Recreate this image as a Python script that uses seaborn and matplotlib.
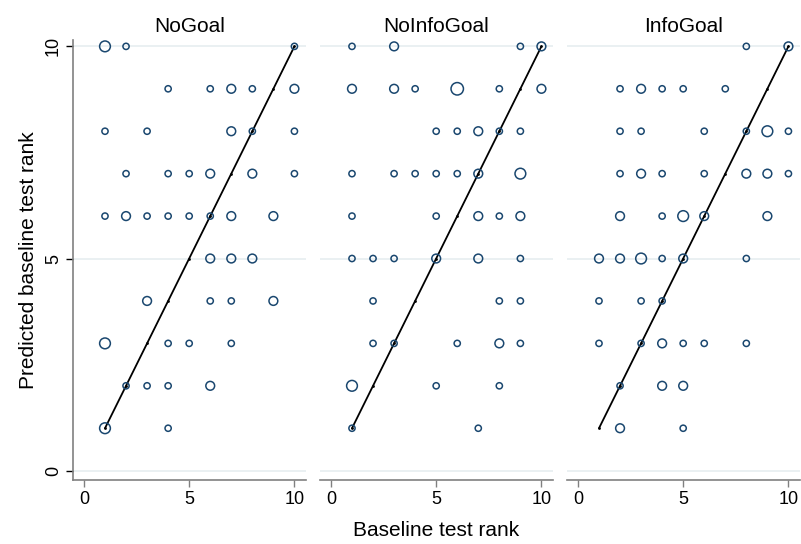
import seaborn as sns
import pandas as pd
from matplotlib import pyplot as plt

# panel titles
groups = ['NoGoal', 'NoInfoGoal', 'InfoGoal']

# NoGoal: baseline rank, predicted rank, number of subjects
nogoal_x = [1, 2, 10, 4, 6, 7, 8, 10, 1, 3, 7, 8, 10, 2, 4, 5, 6, 8, 10,
            1, 2, 3, 4, 5, 6, 7, 9, 6, 7, 8, 3, 6, 7, 9, 1, 4, 5, 7, 2, 3, 4, 6, 1, 4]
nogoal_y = [10, 10, 10, 9, 9, 9, 9, 9, 8, 8, 8, 8, 8, 7, 7, 7, 7, 7, 7,
            6, 6, 6, 6, 6, 6, 6, 6, 5, 5, 5, 4, 4, 4, 4, 3, 3, 3, 3, 2, 2, 2, 2, 1, 1]
nogoal_n = [3, 1, 1, 1, 1, 2, 1, 2, 1, 1, 2, 1, 1, 1, 1, 1, 2, 2, 1,
            1, 2, 1, 1, 1, 1, 2, 2, 2, 2, 2, 2, 1, 1, 2, 3, 1, 1, 1, 1, 1, 1, 2, 3, 1]

# NoInfoGoal
noinfo_x = [1, 3, 9, 10, 1, 3, 4, 6, 8, 10, 5, 6, 7, 8, 9, 1, 3, 4, 5, 6, 7, 9,
            1, 5, 7, 8, 9, 1, 2, 3, 5, 7, 9, 2, 8, 9, 2, 3, 6, 8, 9, 1, 5, 8, 1, 7]
noinfo_y = [10, 10, 10, 10, 9, 9, 9, 9, 9, 9, 8, 8, 8, 8, 8, 7, 7, 7, 7, 7, 7, 7,
            6, 6, 6, 6, 6, 5, 5, 5, 5, 5, 5, 4, 4, 4, 3, 3, 3, 3, 3, 2, 2, 2, 1, 1]
noinfo_n = [1, 2, 1, 2, 2, 2, 1, 4, 1, 2, 1, 1, 2, 1, 1, 1, 1, 1, 1, 1, 2, 3,
            1, 1, 2, 1, 2, 1, 1, 1, 2, 2, 1, 1, 1, 1, 1, 1, 1, 2, 1, 3, 1, 1, 1, 1]

# InfoGoal
info_x = [8, 10, 2, 3, 4, 5, 7, 2, 3, 6, 8, 9, 10, 2, 3, 4, 6, 8, 9, 10,
          2, 4, 5, 6, 9, 1, 2, 3, 4, 5, 8, 1, 3, 4, 1, 3, 4, 5, 6, 8, 2, 4, 5, 2, 5]
info_y = [10, 10, 9, 9, 9, 9, 9, 8, 8, 8, 8, 8, 8, 7, 7, 7, 7, 7, 7, 7,
          6, 6, 6, 6, 6, 5, 5, 5, 5, 5, 5, 4, 4, 4, 3, 3, 3, 3, 3, 3, 2, 2, 2, 1, 1]
info_n = [1, 2, 1, 2, 1, 1, 1, 1, 1, 1, 1, 3, 1, 1, 2, 1, 1, 2, 2, 1,
          2, 1, 3, 2, 2, 2, 2, 3, 1, 2, 1, 1, 1, 1, 1, 1, 2, 1, 1, 1, 1, 2, 2, 2, 1]

# 45 degree reference line
diag = [1, 2, 3, 4, 5, 6, 7, 8, 9, 10]

panels = [(nogoal_x, nogoal_y, nogoal_n), (noinfo_x, noinfo_y, noinfo_n), (info_x, info_y, info_n)]

sns.set_style('white')
plt.rcParams['font.family'] = ['Liberation Sans', 'DejaVu Sans']
plt.rcParams['text.color'] = 'black'
plt.rcParams['axes.labelcolor'] = 'black'
plt.rcParams['xtick.labelcolor'] = 'black'
plt.rcParams['ytick.labelcolor'] = 'black'

navy = '#1a476f'
grid_c = '#e6eef0'
axis_c = '#808080'

fig = plt.figure(figsize=(8.01, 5.44), dpi=100)
lefts = [73, 320, 567]
for i, (g, (xs, ys, ns)) in enumerate(zip(groups, panels)):
    ax = fig.add_axes([lefts[i] / 801, 1 - 480 / 544, 233 / 801, 440 / 544])
    df = pd.DataFrame({'base': xs, 'pred': ys, 'n': ns})
    for yv in [0, 5, 10]:
        ax.axhline(yv, color=grid_c, lw=1.2, zorder=0)
    sns.lineplot(x=diag, y=diag, ax=ax, color='black', lw=1.3, marker='o',
                 markersize=2, markeredgewidth=0, zorder=2)
    sns.scatterplot(data=df, x='base', y='pred', size='n', sizes=(20, 80),
                    size_norm=(1, 4), facecolors='none', edgecolor=navy,
                    linewidth=1.1, legend=False, ax=ax, zorder=3)
    ax.set_xlim(-0.52, 10.55)
    ax.set_ylim(-0.22, 10.15)
    ax.set_xticks([0, 5, 10])
    ax.set_yticks([0, 5, 10])
    ax.set_title(g, fontsize=15, pad=6, color='black')
    ax.set_xlabel('')
    ax.set_ylabel('')
    for s in ['top', 'right', 'left']:
        ax.spines[s].set_visible(False)
    ax.spines['bottom'].set_color(axis_c)
    ax.spines['bottom'].set_linewidth(1.2)
    ax.tick_params(axis='x', bottom=True, length=5, width=1, color=axis_c,
                   labelsize=13, pad=3, labelcolor='black')
    if i == 0:
        ax.spines['left'].set_visible(True)
        ax.spines['left'].set_color(axis_c)
        ax.spines['left'].set_linewidth(1.2)
        ax.tick_params(axis='y', left=True, length=5, width=1, color='black',
                       labelsize=13, pad=3, labelcolor='black')
        for lab in ax.get_yticklabels():
            lab.set_rotation(90)
            lab.set_va('center')
        ax.set_ylabel('Predicted baseline test rank', fontsize=15, labelpad=5, color='black')
    else:
        ax.tick_params(axis='y', left=False, labelleft=False)

fig.text(436 / 801, 1 - 530 / 544, 'Baseline test rank', ha='center', va='center',
         fontsize=15, color='black')
fig.savefig('out.png', dpi=100)
